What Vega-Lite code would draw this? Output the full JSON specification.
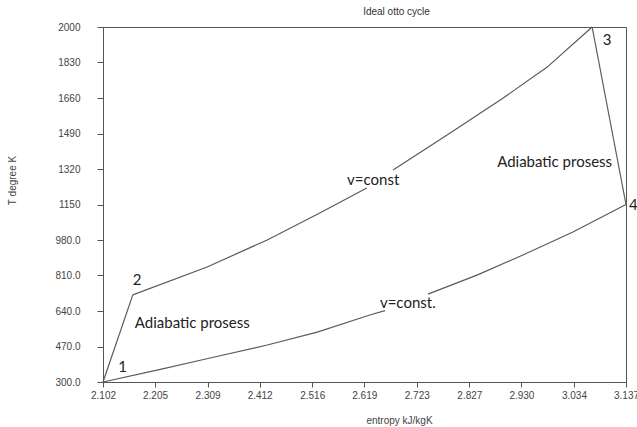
{
  "$schema": "https://vega.github.io/schema/vega-lite/v6.json",
  "width": 523,
  "height": 355,
  "autosize": "none",
  "padding": {"left": 103, "top": 27, "right": 11, "bottom": 45},
  "background": "white",
  "config": {
    "view": {"stroke": "#555555", "strokeWidth": 1},
    "axis": {
      "labelFont": "Liberation Sans",
      "labelFontSize": 10,
      "labelColor": "#444444",
      "titleFont": "Liberation Sans",
      "titleFontSize": 10,
      "titleFontWeight": "normal",
      "titleColor": "#444444",
      "domainColor": "#555555",
      "tickColor": "#555555",
      "grid": false
    }
  },
  "title": {
    "text": "Ideal otto cycle",
    "font": "Liberation Sans",
    "fontSize": 10,
    "fontWeight": "normal",
    "color": "#333333",
    "anchor": "middle",
    "dx": 32,
    "offset": 5
  },
  "datasets": {
    "cycle": [
      {"seg": "a", "i": 0, "s": 2.102, "T": 300},
      {"seg": "a", "i": 1, "s": 2.161, "T": 717},
      {"seg": "b", "i": 0, "s": 2.161, "T": 717},
      {"seg": "b", "i": 1, "s": 2.308, "T": 851},
      {"seg": "b", "i": 2, "s": 2.427, "T": 980},
      {"seg": "b", "i": 3, "s": 2.531, "T": 1109},
      {"seg": "b", "i": 4, "s": 2.624, "T": 1229},
      {"seg": "c", "i": 0, "s": 2.676, "T": 1315},
      {"seg": "c", "i": 1, "s": 2.789, "T": 1492},
      {"seg": "c", "i": 2, "s": 2.894, "T": 1660},
      {"seg": "c", "i": 3, "s": 2.981, "T": 1808},
      {"seg": "c", "i": 4, "s": 3.070, "T": 2000},
      {"seg": "d", "i": 0, "s": 3.070, "T": 2000},
      {"seg": "d", "i": 1, "s": 3.137, "T": 1150},
      {"seg": "e", "i": 0, "s": 2.102, "T": 300},
      {"seg": "e", "i": 1, "s": 2.209, "T": 357},
      {"seg": "e", "i": 2, "s": 2.314, "T": 415},
      {"seg": "e", "i": 3, "s": 2.427, "T": 477},
      {"seg": "e", "i": 4, "s": 2.526, "T": 539},
      {"seg": "e", "i": 5, "s": 2.630, "T": 621},
      {"seg": "e", "i": 6, "s": 2.660, "T": 642},
      {"seg": "f", "i": 0, "s": 2.745, "T": 721},
      {"seg": "f", "i": 1, "s": 2.842, "T": 812},
      {"seg": "f", "i": 2, "s": 2.933, "T": 908},
      {"seg": "f", "i": 3, "s": 3.032, "T": 1018},
      {"seg": "f", "i": 4, "s": 3.137, "T": 1150}
    ],
    "labels": [
      {"s": 2.132, "T": 372, "text": "1"},
      {"s": 2.161, "T": 788, "text": "2"},
      {"s": 3.091, "T": 1938, "text": "3"},
      {"s": 3.143, "T": 1148, "text": "4"},
      {"s": 2.165, "T": 582, "text": "Adiabatic prosess"},
      {"s": 2.585, "T": 1267, "text": "v=const"},
      {"s": 2.650, "T": 678, "text": "v=const."},
      {"s": 2.882, "T": 1353, "text": "Adiabatic prosess"}
    ]
  },
  "layer": [
    {
      "data": {"name": "cycle"},
      "mark": {"type": "line", "color": "#5a5a5a", "strokeWidth": 1.2, "clip": false},
      "encoding": {
        "x": {
          "field": "s",
          "type": "quantitative",
          "scale": {"domain": [2.102, 3.137], "nice": false, "zero": false},
          "axis": {
            "title": "entropy kJ/kgK",
            "values": [2.102, 2.205, 2.309, 2.412, 2.516, 2.619, 2.723, 2.827, 2.930, 3.034, 3.137],
            "tickCount": 20,
            "format": ".3f",
            "tickSize": 5,
            "labelPadding": 3,
            "labelFlush": false,
            "labelOverlap": false,
            "titleX": 296,
            "titleY": 38,
            "titleBaseline": "middle",
            "titleAlign": "center"
          }
        },
        "y": {
          "field": "T",
          "type": "quantitative",
          "scale": {"domain": [300, 2000], "nice": false, "zero": false},
          "axis": {
            "title": "T degree K",
            "values": [300, 470, 640, 810, 980, 1150, 1320, 1490, 1660, 1830, 2000],
            "tickCount": 20,
            "format": ".4r",
            "tickSize": 6,
            "labelPadding": 17,
            "labelFlush": false,
            "labelOverlap": false,
            "titleX": -91,
            "titleY": 153,
            "titleBaseline": "middle",
            "titleAlign": "center",
            "titleAngle": -90
          }
        },
        "detail": {"field": "seg"},
        "order": {"field": "i", "type": "quantitative"}
      }
    },
    {
      "data": {"name": "labels"},
      "mark": {"type": "text", "align": "left", "baseline": "middle", "font": "Lato", "fontSize": 15, "color": "#222222", "clip": false},
      "encoding": {
        "x": {"field": "s", "type": "quantitative"},
        "y": {"field": "T", "type": "quantitative"},
        "text": {"field": "text"}
      }
    }
  ]
}
